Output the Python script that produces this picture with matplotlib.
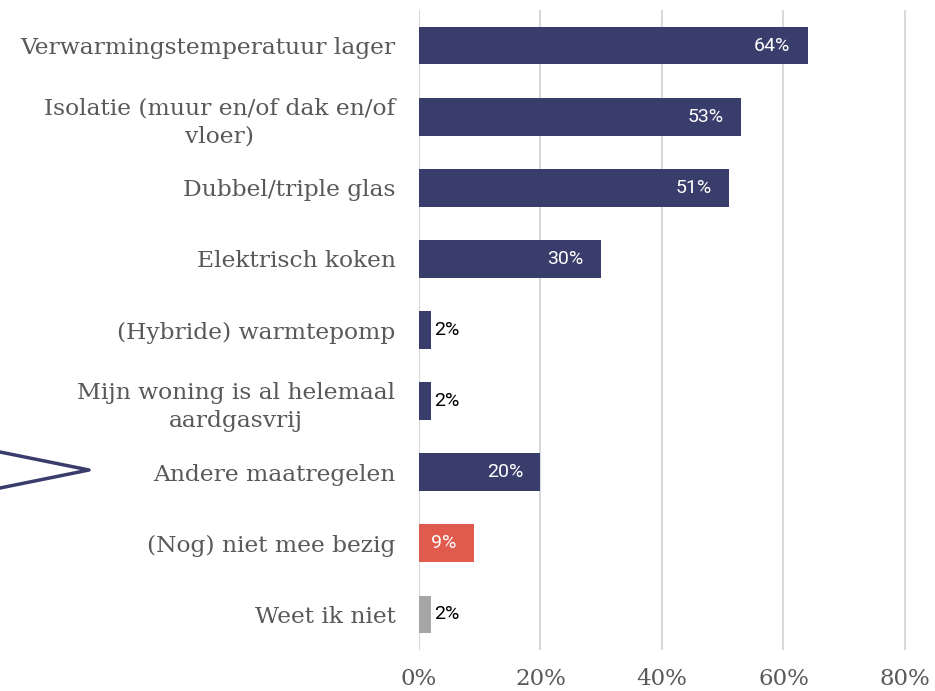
import matplotlib.pyplot as plt
from matplotlib.lines import Line2D

# Maatregelen tegen aardgasverbruik (percentage respondenten)
categories = [
    "Verwarmingstemperatuur lager",
    "Isolatie (muur en/of dak en/of\nvloer)",
    "Dubbel/triple glas",
    "Elektrisch koken",
    "(Hybride) warmtepomp",
    "Mijn woning is al helemaal\naardgasvrij",
    "Andere maatregelen",
    "(Nog) niet mee bezig",
    "Weet ik niet",
]
values = [64, 53, 51, 30, 2, 2, 20, 9, 2]
bar_colors = ["#393D6B"] * 7 + ["#E05A4E", "#A6A6A6"]
x_ticks = [0, 20, 40, 60, 80]

text_grey = "#595959"
W, H = 935, 691

fig = plt.figure(figsize=(W / 100, H / 100), dpi=100)
# axes box in pixels: left 419, right ~911, top 10, bottom 650
ax = fig.add_axes([419 / W, 1 - 650 / H, (911 - 419) / W, 640 / H])

pos = list(range(len(categories)))
ax.barh(pos, values, height=0.53, color=bar_colors, zorder=3)
ax.set_ylim(len(categories) - 0.5, -0.5)
ax.set_xlim(0, 81)

for y, v in zip(pos, values):
    if v >= 5:
        ax.annotate(f"{v}%", (v, y), xytext=(-12.5, 0), textcoords="offset points",
                    ha="right", va="center", color="white", fontsize=14,
                    family="Roboto", zorder=4)
    else:
        ax.annotate(f"{v}%", (v, y), xytext=(2.5, 0), textcoords="offset points",
                    ha="left", va="center", color="black", fontsize=14,
                    family="Roboto", zorder=4)

ax.set_yticks(pos)
ax.set_yticklabels(categories, family="DejaVu Serif", fontsize=16.8,
                   color=text_grey, multialignment="center", linespacing=1.4)
ax.set_xticks(x_ticks)
ax.set_xticklabels([f"{t}%" for t in x_ticks], family="DejaVu Serif",
                   fontsize=16.5, color=text_grey)
ax.tick_params(axis="y", length=0, pad=17)
ax.tick_params(axis="x", length=0, pad=13)

ax.xaxis.grid(True, color="#D9D9D9", linewidth=1.5, zorder=0)
for s in ax.spines.values():
    s.set_visible(False)

# pijl-decoratie links
fig.add_artist(Line2D([0 / W, 89 / W, 0 / W],
                      [1 - 452 / H, 1 - 470 / H, 1 - 488 / H],
                      color="#393D6B", linewidth=2.5))

fig.savefig("out.png", dpi=100)
